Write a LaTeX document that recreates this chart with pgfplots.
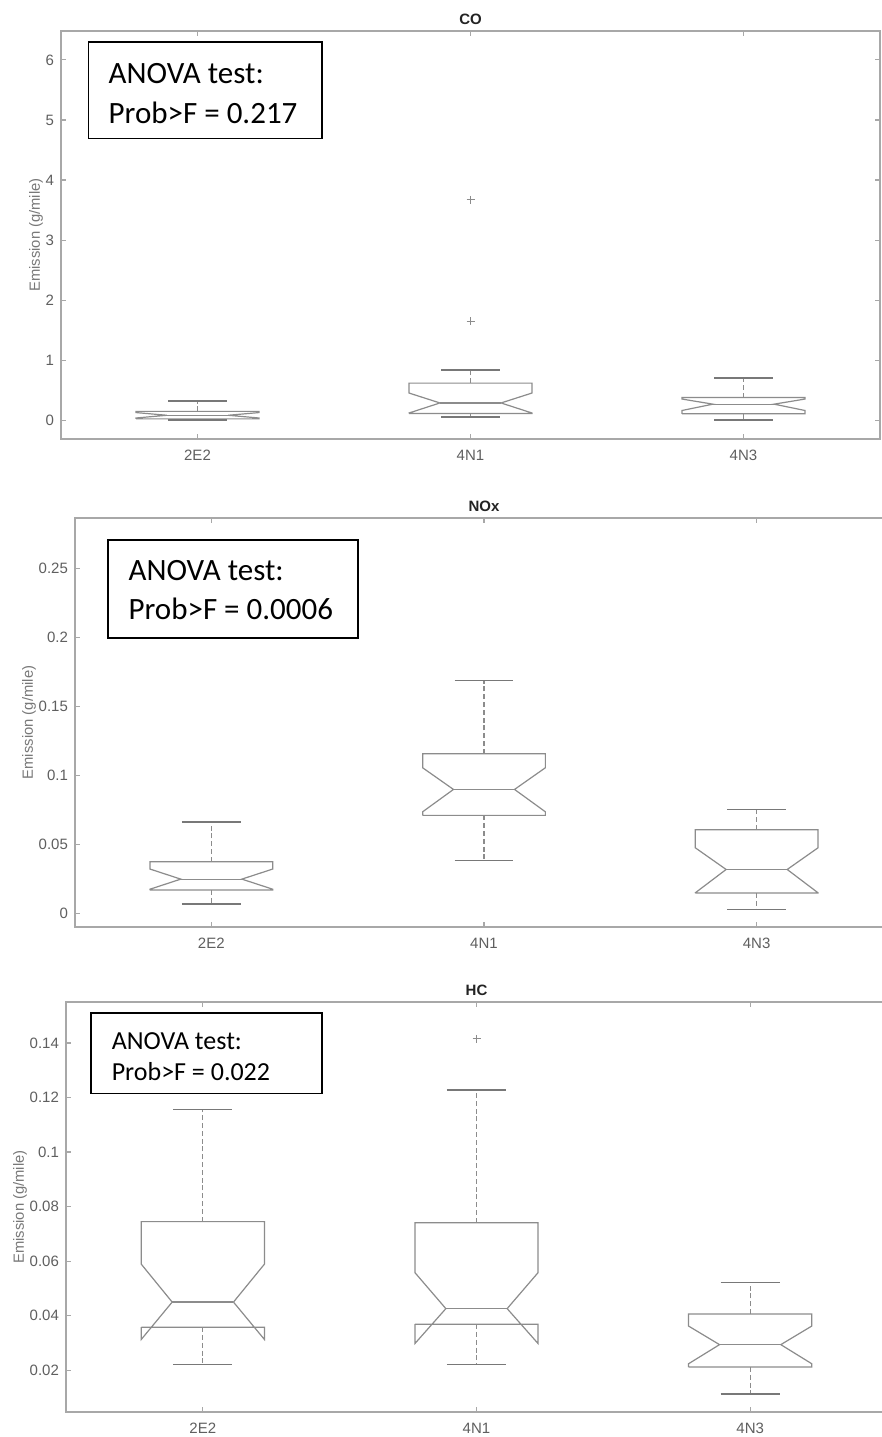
\documentclass[border=0pt]{standalone}
\usepackage{pgfplots}
\pgfplotsset{compat=1.18}
\usepackage{fontspec}
\setmainfont{Liberation Sans}
\newfontfamily\calibri{Carlito}
\definecolor{axisgray}{RGB}{168,168,168}
\definecolor{boxgray}{RGB}{140,140,140}
\definecolor{capgray}{RGB}{120,120,120}
\definecolor{labgray}{RGB}{95,95,95}
\definecolor{ylabgray}{RGB}{120,120,120}
\definecolor{titlegray}{RGB}{35,35,35}
\newcommand{\bw}{0.225}
\newcommand{\nw}{0.112}
\newcommand{\cw}{0.108}
% notched box: x, lower whisker, q1, notch low, median, notch high, q3, upper whisker
\newcommand{\nbox}[8]{%
  \addplot[boxgray, line width=0.6pt] coordinates {({#1-\bw},#3) ({#1-\bw},#4) ({#1-\nw},#5) ({#1-\bw},#6) ({#1-\bw},#7) ({#1+\bw},#7) ({#1+\bw},#6) ({#1+\nw},#5) ({#1+\bw},#4) ({#1+\bw},#3) ({#1-\bw},#3)};
  \addplot[boxgray, line width=0.6pt] coordinates {({#1-\nw},#5) ({#1+\nw},#5)};
  \addplot[boxgray, line width=0.6pt, dash pattern=on 2.5pt off 1.4pt] coordinates {(#1,#7) (#1,#8)};
  \addplot[boxgray, line width=0.6pt, dash pattern=on 2.5pt off 1.4pt] coordinates {(#1,#3) (#1,#2)};
  \addplot[capgray, line width=0.9pt] coordinates {({#1-\cw},#8) ({#1+\cw},#8)};
  \addplot[capgray, line width=0.9pt] coordinates {({#1-\cw},#2) ({#1+\cw},#2)};
}
\pgfplotsset{
  every axis/.append style={
    scale only axis,
    xmin=0.5, xmax=3.5,
    xtick={1,2,3}, xticklabels={2E2,4N1,4N3},
    tick align=inside,
    major tick length=2.5pt,
    axis line style={axisgray, line width=0.9pt},
    every tick/.style={axisgray, line width=0.6pt},
    tick label style={font=\fontsize{7.5}{9}\selectfont, text=labgray},
    xticklabel style={yshift=-2pt},
    /pgf/number format/assume math mode=true,
    scaled y ticks=false,
    title style={font=\bfseries\fontsize{7.5}{9}\selectfont, text=titlegray, yshift=-6.5pt},
    ylabel={Emission (g/mile)},
    ylabel style={font=\fontsize{7.4}{9}\selectfont, text=ylabgray, yshift=-5.5pt},
    clip=false,
  }
}
\begin{document}
\begin{tikzpicture}
\path[use as bounding box, clip] (0,0) rectangle (441pt,-718.5pt);
\fill[white] (0,0) rectangle (441pt,-718.5pt);

% ---------------- CO ----------------
\begin{axis}[at={(30.5pt,-15.5pt)}, anchor=north west,
  width=409.5pt, height=204pt,
  title={CO},
  ymin=-0.31, ymax=6.48,
  ytick={0,1,2,3,4,5,6}, yticklabels={0,1,2,3,4,5,6}]
\nbox{1}{0.0}{0.025}{0.04}{0.085}{0.13}{0.15}{0.325}
\nbox{2}{0.05}{0.115}{0.123}{0.29}{0.455}{0.62}{0.845}
\nbox{3}{0.0}{0.11}{0.165}{0.27}{0.355}{0.38}{0.70}
\addplot[only marks, mark=+, mark size=2pt, boxgray] coordinates {(2,1.65) (2,3.67)};
\end{axis}

% ---------------- NOx ----------------
\begin{axis}[at={(37.5pt,-259pt)}, anchor=north west,
  width=409pt, height=204.5pt,
  title={NOx},
  ymin=-0.0096, ymax=0.2868,
  ytick={0,0.05,0.1,0.15,0.2,0.25}, yticklabels={0,0.05,0.1,0.15,0.2,0.25}]
\nbox{1}{0.0072}{0.0172}{0.0178}{0.0251}{0.0324}{0.0377}{0.0667}
\nbox{2}{0.0386}{0.0713}{0.0739}{0.0901}{0.1058}{0.1159}{0.169}
\nbox{3}{0.0031}{0.0150}{0.0152}{0.0321}{0.0478}{0.0609}{0.0756}
\end{axis}

% ---------------- HC ----------------
\begin{axis}[at={(33pt,-501pt)}, anchor=north west,
  width=410.5pt, height=205pt,
  title={HC},
  ymin=0.0047, ymax=0.155,
  ytick={0.02,0.04,0.06,0.08,0.1,0.12,0.14}, yticklabels={0.02,0.04,0.06,0.08,0.1,0.12,0.14}]
\nbox{1}{0.0221}{0.0358}{0.0313}{0.0450}{0.0589}{0.0745}{0.1156}
\nbox{2}{0.0221}{0.0369}{0.0298}{0.0426}{0.0558}{0.0741}{0.1226}
\nbox{3}{0.0114}{0.0212}{0.0224}{0.0294}{0.0362}{0.0406}{0.0522}
\addplot[only marks, mark=+, mark size=2pt, boxgray] coordinates {(2,0.1415)};
\end{axis}

% ---------------- ANOVA boxes ----------------
\draw[black, line width=0.8pt, fill=white] (44.15pt,-20.85pt) rectangle (160.85pt,-69.15pt);
\node[anchor=base west, inner sep=0pt, font=\calibri\fontsize{15.5}{18}\selectfont] at (54.15pt,-41.65pt) {ANOVA test:};
\node[anchor=base west, inner sep=0pt, font=\calibri\fontsize{15.5}{18}\selectfont] at (54.15pt,-61.65pt) {Prob>F = 0.217};

\draw[black, line width=0.8pt, fill=white] (54pt,-270pt) rectangle (178.85pt,-318.85pt);
\node[anchor=base west, inner sep=0pt, font=\calibri\fontsize{15.5}{18}\selectfont] at (64.1pt,-290.35pt) {ANOVA test:};
\node[anchor=base west, inner sep=0pt, font=\calibri\fontsize{15.5}{18}\selectfont] at (64.1pt,-309.5pt) {Prob>F = 0.0006};

\draw[black, line width=0.8pt, fill=white] (45.55pt,-506.35pt) rectangle (160.85pt,-546.65pt);
\node[anchor=base west, inner sep=0pt, font=\calibri\fontsize{13}{15}\selectfont] at (55.7pt,-524.5pt) {ANOVA test:};
\node[anchor=base west, inner sep=0pt, font=\calibri\fontsize{13}{15}\selectfont] at (55.7pt,-540pt) {Prob>F = 0.022};
\end{tikzpicture}
\end{document}
